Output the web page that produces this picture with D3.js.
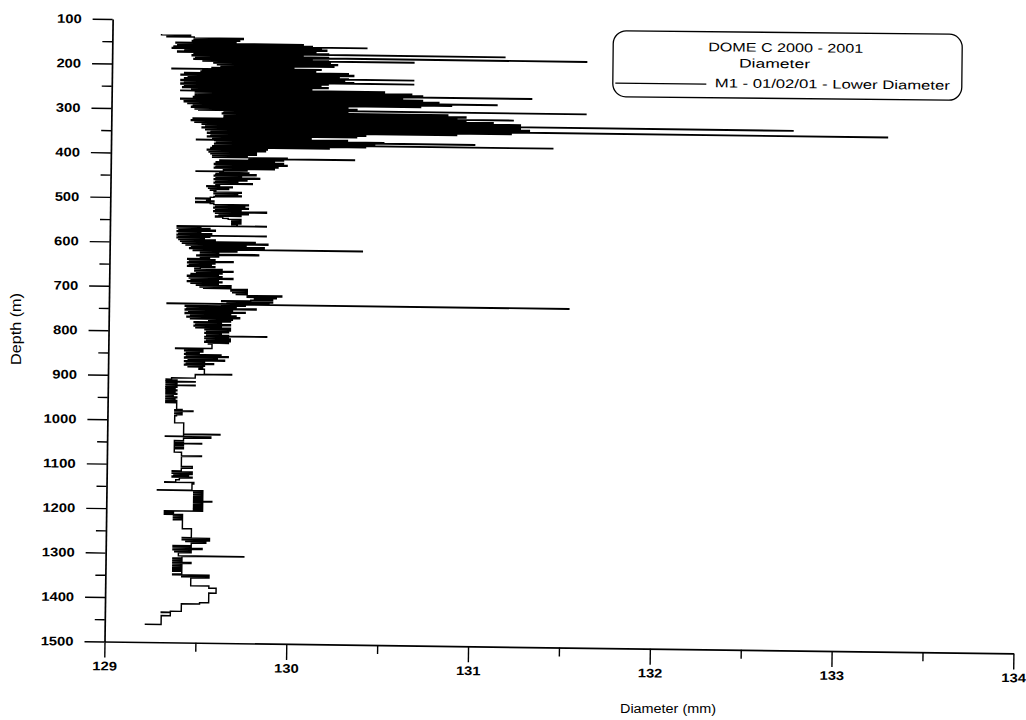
<!DOCTYPE html>
<html><head><meta charset="utf-8">
<script src="https://cdn.jsdelivr.net/npm/d3@7"></script>
<style>body{margin:0;background:#fff}svg{display:block}</style>
</head><body>
<svg id="chart" width="1026" height="720"></svg>
<script>
// ---- data ----
const depthTicks = [100,200,300,400,500,600,700,800,900,1000,1100,1200,1300,1400,1500];
const depthMinorTicks = [150,250,350,450,550,650,750,850,950,1050,1150,1250,1350,1450];
const diameterTicks = [129,130,131,132,133,134];
const diameterMinorTicks = [129.5,130.5,131.5,132.5,133.5];
const legendTitle = ["DOME C 2000 - 2001", "Diameter"];
const seriesName = "M1 - 01/02/01 - Lower Diameter";
const xTitle = "Diameter (mm)";
const yTitle = "Depth (m)";

// [depth (m), diameter (mm)]
const zoneUpper = [[132,129.27],[134,129.43],[136,129.30],[138,129.45],[140,129.72],[142,129.45],[144,129.70],[146,129.44],[148,129.68],[150,129.35],[152,130.05],[154,129.36],[156,130.10],[158,130.40],[159,129.34],[160,130.15],[162,129.33],[164,130.18],[166,129.40],[168,130.12],[170,129.36],[172,130.19],[174,131.16],[175,129.45],[176,130.05],[178,129.44],[180,130.19],[182,131.61],[183,129.46],[184,130.10],[186,129.45],[188,130.19],[189,130.66],[190,129.50],[192,130.20],[194,129.56],[196,130.24],[198,129.58],[200,130.22],[202,129.60],[204,130.00],[206,129.55],[208,130.15],[209,129.33],[210,129.50],[212,130.12],[214,129.49],[216,130.30],[218,129.40],[220,130.33],[222,129.38],[224,130.25],[226,129.42],[228,130.30],[229,130.66],[230,129.40],[232,130.28],[234,129.38],[236,130.33],[238,130.66],[239,129.40],[240,130.19],[242,129.38],[244,130.15],[246,129.40],[248,130.19],[250,129.39],[252,130.10],[254,129.44],[256,130.50],[258,129.38],[259,129.46],[260,130.65],[262,129.46],[264,130.71],[266,129.48],[267,131.31],[268,129.46],[270,130.60],[272,129.45],[274,130.71],[276,129.38],[278,130.80],[280,129.40],[282,131.12],[283,129.40],[284,130.87],[286,129.42],[288,130.70],[290,129.45],[292,130.30],[294,129.44],[296,130.35],[298,129.46],[300,131.61],[301,129.48],[302,130.30],[304,129.62],[306,130.85],[308,129.61],[310,130.95],[312,129.62],[314,130.90],[316,131.21],[317,129.62],[318,130.95],[320,129.45],[322,131.10],[324,129.44],[326,131.25],[328,129.46],[330,131.20],[331,132.75],[332,129.50],[334,131.25],[336,129.52],[338,131.30],[340,129.50],[342,131.15],[343,133.27],[344,129.52],[346,131.20],[348,129.55],[350,130.90],[352,129.53],[354,130.40],[356,129.55],[358,130.35],[360,129.53],[362,130.10],[364,129.56],[366,130.30],[368,129.47],[369,129.57],[370,130.50],[372,131.00],[373,129.58],[374,130.45],[376,129.57],[378,131.43],[379,129.58],[380,130.40],[382,129.56],[384,130.20],[386,129.55],[388,129.86],[390,129.53],[392,129.85],[394,129.54],[396,129.80],[398,129.55],[400,129.80],[402,129.56],[404,129.75],[406,129.56],[408,129.97],[410,130.34],[411,129.76],[412,129.95],[414,129.60],[416,129.90],[418,129.58]];

const zoneMiddle = [[420,129.95],[422,129.57],[424,129.97],[426,129.58],[428,129.92],[430,129.57],[432,129.90],[434,129.62],[436,129.75],[438,129.62],[439,129.47],[440,129.60],[442,129.76],[444,129.58],[446,129.80],[448,129.57],[450,129.72],[452,129.58],[454,129.82],[456,129.57],[458,129.75],[460,129.58],[462,129.70],[464,129.57],[466,129.78],[468,129.58],[470,129.60],[472,129.53],[474,129.67],[476,129.54],[478,129.65],[480,129.55],[482,129.58],[484,129.57],[486,129.72],[488,129.57],[490,129.70],[492,129.58],[494,129.72],[496,129.57],[498,129.55],[500,129.47],[502,129.55],[504,129.53],[506,129.57],[508,129.47],[510,129.55],[512,129.57],[514,129.76],[516,129.58],[518,129.74],[520,129.57],[522,129.76],[524,129.58],[526,129.72],[528,129.57],[530,129.86],[532,129.58],[534,129.76],[536,129.60],[538,129.72],[540,129.58],[542,129.62],[545,129.65],[547,129.72],[549,129.67],[551,129.72],[553,129.67],[555,129.72],[557,129.67],[559,129.70],[562,129.86],[563,129.37],[564,129.50],[566,129.37],[568,129.55],[570,129.38],[572,129.58],[574,129.37],[576,129.50],[578,129.38],[580,129.56],[582,129.37],[584,129.86],[585,129.38],[586,129.55],[588,129.37],[590,129.52],[592,129.38],[594,129.58],[596,129.39],[598,129.80],[600,129.40],[602,129.87],[604,129.42],[606,129.75],[608,129.45],[610,129.85],[612,129.44],[614,129.80],[615,130.39],[616,129.46],[618,129.70],[620,129.50],[622,129.60],[624,129.50],[626,129.82],[628,129.48],[630,129.60],[632,129.50],[634,129.55],[636,129.43],[638,129.58],[640,129.44],[642,129.68],[644,129.43],[646,129.58],[648,129.44],[650,129.56],[652,129.43],[654,129.58],[656,129.50],[658,129.47],[660,129.62],[662,129.47],[664,129.68],[666,129.48],[668,129.62],[670,129.45],[672,129.60],[674,129.43],[676,129.62],[678,129.44],[680,129.68],[682,129.45],[684,129.60],[686,129.43],[688,129.62],[690,129.45],[692,129.60],[694,129.48],[696,129.67],[698,129.50],[700,129.67],[702,129.52],[703,129.67],[704,129.76],[706,129.67],[708,129.76],[710,129.68],[712,129.76],[714,129.70],[716,129.76],[718,129.95],[720,129.76],[722,129.92],[724,129.80],[726,129.90],[728,129.78],[730,129.62],[732,129.90],[734,129.65],[736,129.88],[737,129.32],[738,131.53],[739,129.62],[740,129.75],[742,129.42],[744,129.70],[746,129.43],[748,129.81],[750,129.42],[752,129.68],[754,129.44],[756,129.75],[758,129.42],[760,129.67],[762,129.45],[764,129.70],[766,129.43],[768,129.72],[770,129.45],[772,129.68],[774,129.55],[776,129.67],[778,129.47],[780,129.62],[782,129.48],[784,129.67],[786,129.47],[788,129.62],[790,129.48],[792,129.67],[794,129.53],[796,129.67],[798,129.54],[800,129.66],[802,129.53],[804,129.62],[806,129.54],[808,129.66],[810,129.87],[811,129.53],[812,129.66],[814,129.53],[816,129.67],[818,129.54],[820,129.67],[822,129.53],[824,129.66],[826,129.55],[828,129.57],[838,129.37],[839,129.45],[840,129.52],[842,129.42],[844,129.52],[846,129.43],[848,129.50],[850,129.42],[852,129.62],[854,129.43],[856,129.66],[858,129.42],[860,129.60],[862,129.44],[864,129.64],[866,129.42],[868,129.53],[870,129.43],[872,129.58],[874,129.42],[876,129.53],[878,129.44],[880,129.52],[882,129.50],[885,129.53],[896,129.68],[897,129.48]];

const zoneLower = [[905,129.35],[908,129.32],[910,129.38],[912,129.32],[913,129.48],[914,129.32],[916,129.38],[918,129.32],[920,129.38],[921,129.48],[922,129.32],[924,129.38],[926,129.32],[928,129.37],[930,129.32],[932,129.38],[934,129.32],[936,129.37],[938,129.32],[940,129.38],[942,129.32],[944,129.36],[946,129.32],[948,129.38],[950,129.32],[952,129.37],[954,129.32],[956,129.38],[958,129.32],[961,129.38],[976,129.41],[977,129.37],[979,129.47],[980,129.37],[982,129.41],[984,129.37],[986,129.41],[988,129.38],[990,129.37],[1006,129.42],[1031,129.62],[1032,129.42],[1036,129.32],[1037,129.57],[1040,129.42],[1046,129.37],[1050,129.42],[1052,129.52],[1053,129.37],[1056,129.42],[1058,129.37],[1062,129.42],[1064,129.37],[1072,129.41],[1080,129.52],[1081,129.41],[1104,129.47],[1108,129.41],[1114,129.36],[1116,129.47],[1118,129.36],[1120,129.47],[1122,129.37],[1124,129.45],[1126,129.36],[1128,129.47],[1130,129.40],[1134,129.38],[1139,129.32],[1140,129.48],[1143,129.47],[1157,129.28],[1158,129.53],[1160,129.48],[1163,129.53],[1165,129.48],[1167,129.53],[1170,129.48],[1172,129.53],[1175,129.48],[1177,129.53],[1179,129.48],[1182,129.58],[1183,129.48],[1185,129.53],[1187,129.48],[1189,129.53],[1191,129.48],[1193,129.53],[1195,129.48],[1197,129.53],[1199,129.48],[1201,129.53],[1204,129.32],[1208,129.37],[1210,129.32],[1212,129.42],[1214,129.37],[1216,129.42],[1218,129.37],[1220,129.42],[1222,129.37],[1224,129.42],[1244,129.47],[1264,129.42],[1265,129.57],[1267,129.42],[1269,129.57],[1271,129.44],[1273,129.55],[1276,129.47],[1282,129.37],[1284,129.47],[1286,129.37],[1288,129.53],[1290,129.37],[1292,129.47],[1294,129.38],[1296,129.47],[1298,129.40],[1305,129.76],[1306,129.42],[1310,129.37],[1312,129.42],[1314,129.37],[1316,129.42],[1318,129.37],[1320,129.47],[1322,129.37],[1324,129.42],[1326,129.37],[1328,129.42],[1330,129.37],[1332,129.42],[1334,129.37],[1336,129.42],[1338,129.37],[1340,129.42],[1346,129.37],[1348,129.57],[1350,129.42],[1352,129.57],[1354,129.47],[1372,129.57],[1377,129.61],[1388,129.57],[1410,129.52],[1413,129.42],[1430,129.36],[1432,129.31],[1433,129.36],[1440,129.31],[1460,129.22]];

const series = zoneUpper.concat(zoneMiddle, zoneLower);

// ---- drawing ----
const FONT = "'Liberation Sans', Arial, sans-serif";
const svg = d3.select('#chart');
svg.append('rect').attr('width',1026).attr('height',720).attr('fill','#fff');

const W = 909, H = 622.5;
const x = d3.scaleLinear().domain([129,134]).range([0, W]);
const y = d3.scaleLinear().domain([100,1500]).range([-H, 0]);
const fmt = d3.format('d');

const g = svg.append('g').attr('transform','translate(104.5,641.5) rotate(0.75)');

function styleAxis(sel){
  sel.selectAll('.domain').attr('stroke','#000').attr('stroke-width',1.7);
  sel.selectAll('.tick line').attr('stroke','#000').attr('stroke-width',1.4);
  sel.selectAll('.tick text').attr('fill','#000')
    .style('font-family',FONT).style('font-weight','bold').style('font-size','12.5px')
    .attr('textLength', function(){ return this.textContent.length*8.2; })
    .attr('lengthAdjust','spacingAndGlyphs');
}

// minor ticks
g.append('g').call(d3.axisLeft(y).tickValues(depthMinorTicks).tickSize(10).tickFormat(()=>''))
  .call(s=>{s.select('.domain').remove(); s.selectAll('line').attr('stroke','#000').attr('stroke-width',1.4);});
g.append('g').call(d3.axisBottom(x).tickValues(diameterMinorTicks).tickSize(9).tickFormat(()=>''))
  .call(s=>{s.select('.domain').remove(); s.selectAll('line').attr('stroke','#000').attr('stroke-width',1.4);});

// major axes
g.append('g').call(d3.axisLeft(y).tickValues(depthTicks).tickFormat(fmt).tickSize(20).tickSizeOuter(0).tickPadding(11)).call(styleAxis);
g.append('g').call(d3.axisBottom(x).tickValues(diameterTicks).tickFormat(fmt).tickSize(16).tickSizeOuter(0).tickPadding(4)).call(styleAxis);

// data line
const line = d3.line().x(d=>x(d[1])).y(d=>y(d[0])).curve(d3.curveStepBefore);
g.append('path').datum(series).attr('d',line)
  .attr('fill','none').attr('stroke','#000').attr('stroke-width',1.45).attr('stroke-linejoin','miter');

// axis titles
svg.append('text').attr('x',668).attr('y',713).attr('text-anchor','middle')
  .style('font-family',FONT).style('font-size','12.5px').attr('fill','#000')
  .attr('textLength',96).attr('lengthAdjust','spacingAndGlyphs').text(xTitle);
svg.append('text').attr('transform','translate(21,329) rotate(-90)').attr('text-anchor','middle')
  .style('font-family',FONT).style('font-size','14px').attr('fill','#000')
  .attr('textLength',72).attr('lengthAdjust','spacingAndGlyphs').text(yTitle);

// legend
const lg = svg.append('g').attr('transform','translate(787.5,65.5) rotate(0.6)');
lg.append('rect').attr('x',-174.5).attr('y',-33).attr('width',349).attr('height',66).attr('rx',13)
  .attr('fill','#fff').attr('stroke','#000').attr('stroke-width',1.3);
const legendTextLen = [155, 71];
const legendCx = [-2, -13];
const legendBase = [-13.5, 2.5];
legendTitle.forEach((t,i)=>{
  lg.append('text').attr('x',legendCx[i]).attr('y',legendBase[i]).attr('text-anchor','middle')
    .style('font-family',FONT).style('font-size','12.5px').attr('fill','#000')
    .attr('textLength',legendTextLen[i]).attr('lengthAdjust','spacingAndGlyphs').text(t);
});
lg.append('line').attr('x1',-172).attr('x2',-81).attr('y1',19.5).attr('y2',19.5)
  .attr('stroke','#000').attr('stroke-width',1.3);
lg.append('text').attr('x',-72.5).attr('y',22.5)
  .style('font-family',FONT).style('font-size','12.5px').attr('fill','#000')
  .attr('textLength',235).attr('lengthAdjust','spacingAndGlyphs').text(seriesName);
</script>
</body></html>
